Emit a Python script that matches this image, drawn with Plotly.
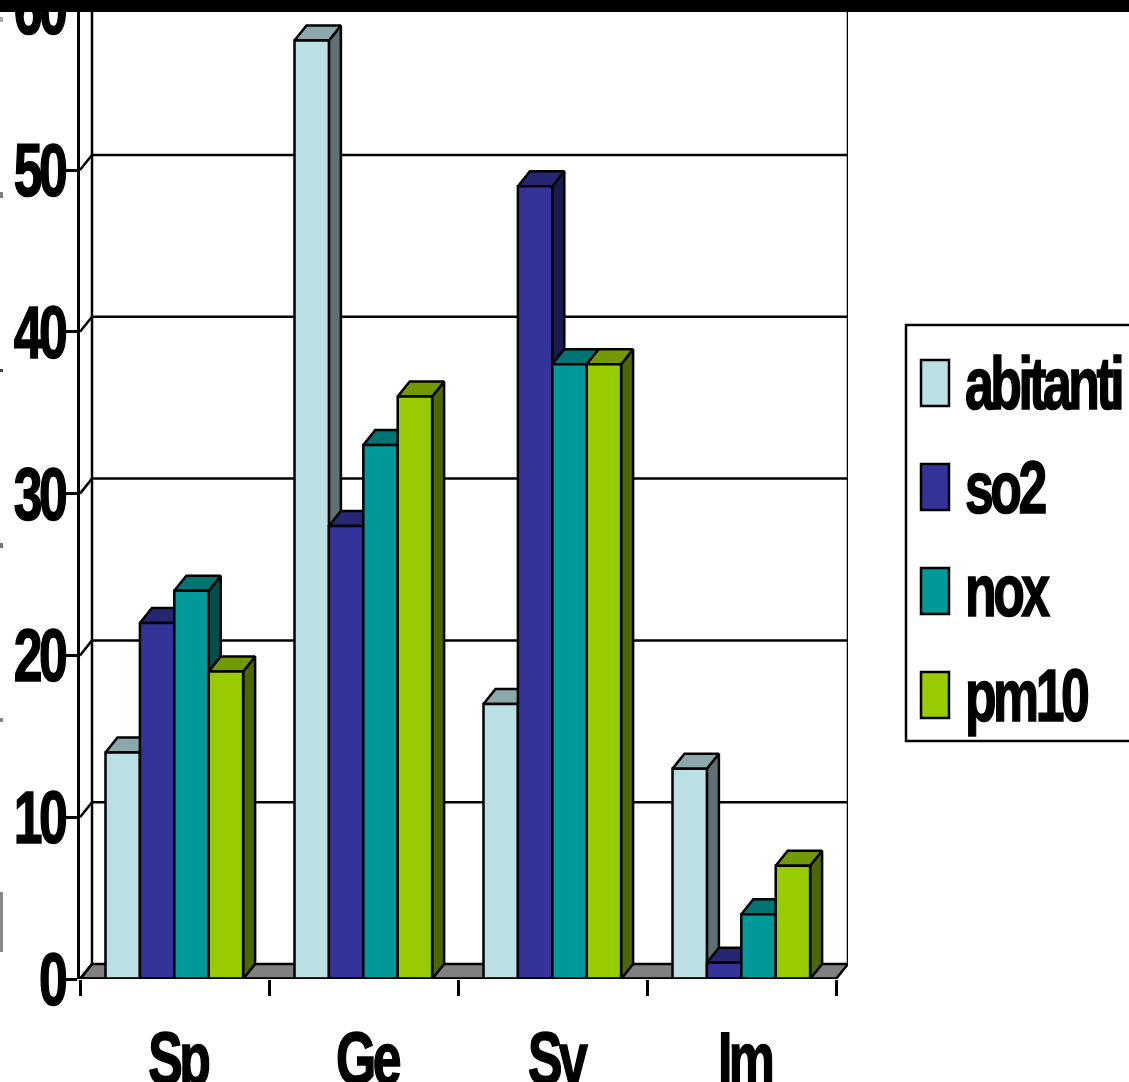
import plotly.graph_objects as go

categories = ["Sp", "Ge", "Sv", "Im"]
series_names = ["abitanti", "so2", "nox", "pm10"]
abitanti = [14, 58, 17, 13]
so2 = [22, 28, 49, 1]
nox = [24, 33, 38, 4]
pm10 = [19, 36, 38, 7]
y_ticks = [0, 10, 20, 30, 40, 50, 60]

series = [abitanti, so2, nox, pm10]
front = ["#BBE0E3", "#333399", "#009999", "#99CC00"]
top = ["#8CA8AA", "#262673", "#007373", "#739900"]
side = ["#5E7072", "#1A1A4D", "#004D4D", "#4D6600"]

W, H = 1129, 1082
L, R, T, B = 80, 848, 0, 979
PX_X = 189.0
PX_Y = 16.18
xmax = (R - L) / PX_X
ymax = (B - T) / PX_Y
DX = 12 / PX_X
DY = 15 / PX_Y
BW = 34.4 / PX_X
GAP = 25.5 / PX_X
INK = "black"
FONT = dict(family="Liberation Sans, Arial", size=74, color="black", weight=700)

fig = go.Figure()


def poly(xs, ys, fill):
    fig.add_trace(go.Scatter(x=xs, y=ys, mode="lines", fill="toself", fillcolor=fill,
                             line=dict(color=INK, width=2.5), hoverinfo="skip", showlegend=False))


def line(xs, ys, width=2.5):
    fig.add_trace(go.Scatter(x=xs, y=ys, mode="lines", line=dict(color=INK, width=width),
                             hoverinfo="skip", showlegend=False))


# walls, floor and gridlines
n = len(categories)
poly([0, DX, n + DX, n, 0], [0, DY, DY, 0, 0], "#808080")
for t in y_ticks:
    if t:
        line([DX, n + DX], [t + DY, t + DY])
    line([0, DX], [t, t + DY])
line([DX, DX], [DY, ymax])
line([n + DX, n + DX], [DY, ymax])

# bars
for c in range(n):
    for s, vals in enumerate(series):
        v = vals[c]
        x0 = c + GAP + s * BW
        x1 = x0 + BW
        poly([x1, x1 + DX, x1 + DX, x1, x1], [0, DY, v + DY, v, 0], side[s])
        poly([x0, x0 + DX, x1 + DX, x1, x0], [v, v + DY, v + DY, v, v], top[s])
        poly([x0, x1, x1, x0, x0], [0, 0, v, v, 0], front[s])

# front axis line
line([0, n], [0, 0], 3.5)


def px(x):
    return (x - L) / (R - L)


def py(y):
    return (B - y) / (B - T)


shapes = [
    dict(type="rect", xref="paper", yref="paper", x0=px(0), x1=px(W), y0=py(12), y1=py(0) + 0.01,
         fillcolor="black", line=dict(width=0), layer="above"),
    dict(type="path", xref="paper", yref="paper",
         path=f"M {px(W + 5)} {py(325)} L {px(906)} {py(325)} L {px(906)} {py(741)} L {px(W + 5)} {py(741)}",
         line=dict(color="black", width=2.5), layer="above"),
]
for y0, y1, c in [(17, 22, "#AAAAAA"), (192, 198, "#808080"), (369, 372, "#444444"), (543, 548, "#777777"),
                  (718, 722, "#888888"), (892, 952, "#888888")]:
    shapes.append(dict(type="rect", xref="paper", yref="paper", x0=px(0), x1=px(3), y0=py(y1), y1=py(y0),
                       fillcolor=c, line=dict(width=0), layer="above"))

annotations = []
swatch_tops = [360, 464, 568, 672]
for name, col, st in zip(series_names, front, swatch_tops):
    shapes.append(dict(type="rect", xref="paper", yref="paper", x0=px(921), x1=px(949), y0=py(st + 46), y1=py(st),
                       fillcolor=col, line=dict(color="black", width=2.5), layer="above"))
    annotations.append(dict(xref="paper", yref="paper", x=px(965), y=py(st + 23), text=name, showarrow=False,
                            xanchor="left", yanchor="middle", font=FONT))

fig.update_layout(
    width=W, height=H, margin=dict(l=L, r=W - R, t=T, b=H - B, pad=0, autoexpand=False),
    paper_bgcolor="white", plot_bgcolor="white", showlegend=False, shapes=shapes, annotations=annotations,
    xaxis=dict(range=[0, xmax], tickmode="array", tickvals=[i + 0.5 for i in range(n)], ticktext=categories,
               ticks="", showgrid=False, zeroline=False, showline=False, tickfont=FONT, ticklabelstandoff=30,
               ticklabeloverflow="allow", fixedrange=True,
               minor=dict(tickmode="array", tickvals=list(range(n + 1)), ticks="outside", ticklen=16, tickwidth=2.5,
                          tickcolor="black", showgrid=False)),
    yaxis=dict(range=[0, ymax], tickmode="array", tickvals=y_ticks, ticks="outside", ticklen=12, tickwidth=2.5,
               tickcolor="black", showgrid=False, zeroline=False, showline=True, linecolor="black", linewidth=2.5,
               tickfont=FONT, ticklabeloverflow="allow", fixedrange=True),
)

# The reference lettering is horizontally squeezed, tightly set and heavy.
squeeze = """
document.body.style.margin='0';
var K=0.70;
function fit(sel,mode,shift,left){
  document.querySelectorAll(sel).forEach(function(t){
    t.style.letterSpacing='-5px';
    t.style.stroke='black';
    t.style.strokeWidth='1.6px';
    var b=t.getBBox();
    var a=mode==='end'?b.x+b.width:(mode==='mid'?b.x+b.width/2:b.x);
    var old=t.getAttribute('transform')||'';
    t.setAttribute('transform',old+' translate('+(a+shift)+',0) scale('+K+',1) translate('+(-a)+',0)');
    if(left!==undefined){
      var r=t.getBoundingClientRect();
      t.setAttribute('transform','translate('+(left-r.left)+',0) '+t.getAttribute('transform'));
    }
  });
}
fit('.ytick text','end',13);
fit('.xtick text','mid',3);
fit('.annotation-text','start',0,965);
"""
fig.write_html("out.html", post_script=squeeze, config={"displayModeBar": False})
